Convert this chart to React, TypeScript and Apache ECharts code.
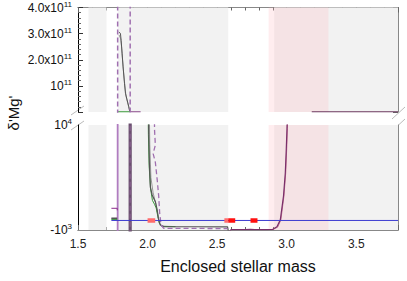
import React, { useEffect, useRef } from "react";
import * as echarts from "echarts";

type Pt = [number, number];

const X_MIN = 1.5;
const X_MAX = 3.8;
const xMajorStep = 0.5;
const xMinorStep = 0.1;
const topYMax = 4e11;
const topYStep = 1e11;
const bottomYMin = -1000;
const bottomYMax = 10000;
const bottomYLabelValues = [-1000, 10000];

const greyBands: Pt[] = [[1.575, 1.705], [1.785, 2.58], [2.91, 3.8]];
const pinkBands: Pt[] = [[2.87, 3.3]];

// top panel (linear, 0 .. 4e11)
const topGreyDark: Pt[] = [[1.793, 3.06e11], [1.805, 3.01e11], [1.81, 2.74e11], [1.817, 2.25e11], [1.824, 1.73e11], [1.834, 1.1e11], [1.841, 0.72e11], [1.853, 0.46e11], [1.865, 0.2e11], [1.872, 0.01e11]];
const topGreyLight: Pt[] = [[1.795, 2.95e11], [1.807, 2.8e11], [1.813, 2.5e11], [1.82, 2.0e11], [1.828, 1.5e11], [1.837, 1.0e11], [1.845, 0.6e11], [1.857, 0.35e11], [1.868, 0.12e11], [1.874, 0.01e11]];
const topGreen: Pt[] = [[1.785, 1e8], [1.874, 1e8]];
const topPurple: Pt[] = [[1.875, 1e8], [1.95, 1e8]];
const topPurpleRight: Pt[] = [[3.18, 1e8], [3.8, 1e8]];
const topPurpleDash: Pt[] = [[1.785, -1e10], [1.785, 5e11], [1.875, 5e11], [1.875, -1e10]];

// bottom panel (linear, -1e3 .. 1e4)
const botPurpleLightV: Pt[] = [[1.785, -1500], [1.785, 12000]];
const botDarkV: Pt[] = [[1.875, -1500], [1.875, 12000]];
const botShortPurple: Pt[] = [[1.74, 1275], [1.782, 1275], [1.782, 1060]];
const botShortGrey: Pt[] = [[1.74, 240], [1.782, 240]];
const botShortLightGrey: Pt[] = [[1.74, 170], [1.782, 170]];
const botShortGreen: Pt[] = [[1.74, 90], [1.782, 90]];
const botGreyDark: Pt[] = [[2.007, 12000], [2.008, 9500], [2.013, 6000], [2.02, 3500], [2.033, 2670], [2.056, 1960], [2.069, 1100], [2.08, 50], [2.092, -480], [2.116, -650], [2.35, -660], [2.575, -670], [2.585, -1500]];
const botGreyLight: Pt[] = [[2.012, 12000], [2.016, 8000], [2.024, 4500], [2.04, 2900], [2.06, 1700], [2.072, 700], [2.085, -300], [2.1, -600], [2.2, -640]];
const botGreen: Pt[] = [[2.004, 12000], [2.006, 9000], [2.012, 5500], [2.022, 3300], [2.035, 2100], [2.05, 1700], [2.062, 1300], [2.074, 400], [2.086, -350], [2.105, -620], [2.2, -650]];
const botPurpleDash: Pt[] = [[2.049, 12000], [2.05, 9500], [2.056, 7900], [2.04, 7000], [2.056, 6100], [2.069, 4300], [2.08, 2550], [2.087, 780], [2.097, -470], [2.116, -820], [2.575, -850]];
const botPurpleSolid: Pt[] = [[2.585, -1200], [2.6, -960], [2.7, -960], [2.74, -930], [2.77, -970], [2.85, -960], [2.9, -930], [2.93, -650], [2.954, 60], [2.977, 2550], [2.99, 5000], [2.997, 7500], [3.002, 9600], [3.006, 12000]];
const botPink: Pt[] = [[2.9, -960], [2.935, -700], [2.958, 60], [2.98, 2550], [2.993, 5000], [3.0, 7500], [3.005, 9600], [3.009, 12000]];
const zeroLine: Pt[] = [[1.74, 0], [3.8, 0]];
const lightRedSegs: Pt[] = [[2.0, 2.055], [2.552, 2.58]];
const redSegs: Pt[] = [[2.58, 2.63], [2.74, 2.79]];

const FONT = "'Liberation Sans', Arial, sans-serif";

function line(data: Pt[], xi: number, yi: number, color: string, width: number, type: any = "solid", z = 3) {
  return {
    type: "line",
    data,
    xAxisIndex: xi,
    yAxisIndex: yi,
    showSymbol: false,
    symbol: "none",
    silent: true,
    clip: true,
    z,
    lineStyle: { color, width, type, cap: "butt" },
  };
}

function bandSeries(xi: number, yi: number, bands: Pt[], color: string, z: number) {
  return {
    type: "line",
    data: [],
    xAxisIndex: xi,
    yAxisIndex: yi,
    silent: true,
    z,
    markArea: {
      silent: true,
      itemStyle: { color },
      data: bands.map(([a, b]) => [{ xAxis: a }, { xAxis: b }]),
    },
  };
}

export default function App() {
  const ref = useRef<HTMLDivElement>(null);
  useEffect(() => {
    if (!ref.current) return;
    const chart = echarts.init(ref.current, undefined, { renderer: "svg" });
    const richLbl = {
      b: { fontSize: 12, color: "#111", fontFamily: FONT },
      s: { fontSize: 8, color: "#111", fontFamily: FONT, padding: [0, 0, 7, 0] },
    };
    const xBase = (gridIndex: number, position: string, major: boolean, labels: boolean, axisColor: string) => ({
      type: "value",
      gridIndex,
      position,
      min: X_MIN,
      max: X_MAX,
      interval: major ? xMajorStep : xMinorStep,
      splitLine: { show: false },
      axisLine: { show: true, onZero: false, lineStyle: { color: axisColor, width: 1 } },
      axisTick: { show: true, inside: true, length: major ? 5 : 3, lineStyle: { color: "#666" } },
      axisLabel: labels
        ? {
            show: true,
            fontSize: 12,
            color: "#222",
            fontFamily: FONT,
            margin: 8,
            formatter: (v: number) => {
              const k = Math.round(v / xMajorStep);
              return Math.abs(k * xMajorStep - v) < 1e-6 && v < 3.75 ? v.toFixed(1) : "";
            },
          }
        : { show: false },
    });
    const option: any = {
      animation: false,
      grid: [
        { left: 78, right: 9, top: 7, height: 105 },
        { left: 78, right: 9, top: 125, height: 105 },
      ],
      xAxis: [
        xBase(0, "top", false, false, "#888"),
        xBase(0, "top", true, false, "#888"),
        xBase(1, "bottom", false, false, "#888"),
        {
          ...xBase(1, "bottom", true, true, "#888"),
          name: "Enclosed stellar mass",
          nameLocation: "middle",
          nameGap: 28,
          nameTextStyle: { fontSize: 16, color: "#111", fontFamily: FONT },
        },
      ],
      yAxis: [
        {
          type: "value",
          gridIndex: 0,
          position: "left",
          min: 0,
          max: topYMax,
          interval: topYStep,
          splitLine: { show: false },
          axisLine: { show: true, lineStyle: { color: "#000" } },
          axisTick: { show: true, inside: true, length: 5, lineStyle: { color: "#333" } },
          minorTick: { show: true, splitNumber: 5, length: 3, lineStyle: { color: "#666" } },
          axisLabel: {
            margin: 6,
            formatter: (v: number) => {
              const k = Math.round(v / topYStep);
              if (k === 0) return "";
              if (k === 1) return "{b|10}{s|11}";
              return `{b|${k}.0x10}{s|11}`;
            },
            rich: richLbl,
          },
        },
        {
          type: "value",
          gridIndex: 0,
          position: "right",
          min: 0,
          max: topYMax,
          interval: topYStep,
          splitLine: { show: false },
          axisLine: { show: true, lineStyle: { color: "#888" } },
          axisTick: { show: true, inside: true, length: 5, lineStyle: { color: "#666" } },
          minorTick: { show: true, splitNumber: 5, length: 3, lineStyle: { color: "#888" } },
          axisLabel: { show: false },
        },
        {
          type: "value",
          gridIndex: 1,
          position: "left",
          min: bottomYMin,
          max: bottomYMax,
          splitLine: { show: false },
          axisLine: { show: true, lineStyle: { color: "#000" } },
          axisTick: { show: false },
          axisLabel: {
            margin: 6,
            customValues: bottomYLabelValues,
            formatter: (v: number) => (v < 0 ? "{b|-10}{s|3}" : "{b|10}{s|4}"),
            rich: richLbl,
          },
        },
        {
          type: "value",
          gridIndex: 1,
          position: "right",
          min: bottomYMin,
          max: bottomYMax,
          splitLine: { show: false },
          axisLine: { show: true, lineStyle: { color: "#888" } },
          axisTick: { show: false },
          axisLabel: { show: false },
        },
      ],
      graphic: [
        {
          type: "text",
          x: 13,
          y: 113,
          rotation: Math.PI / 2,
          style: { text: "δ'Mg'", fontSize: 15, fill: "#111", fontFamily: FONT, textAlign: "center", textVerticalAlign: "middle" },
        },
        { type: "line", shape: { x1: 71, y1: 115, x2: 84, y2: 106 }, style: { stroke: "#bbb", lineWidth: 1 } },
        { type: "line", shape: { x1: 71, y1: 130, x2: 84, y2: 121 }, style: { stroke: "#bbb", lineWidth: 1 } },
        { type: "line", shape: { x1: 392, y1: 119, x2: 405, y2: 107 }, style: { stroke: "#bbb", lineWidth: 1 } },
        { type: "line", shape: { x1: 392, y1: 131, x2: 405, y2: 119 }, style: { stroke: "#bbb", lineWidth: 1 } },
      ],
      series: [
        bandSeries(1, 0, greyBands, "#f2f2f2", 0),
        bandSeries(1, 0, pinkBands, "rgba(255,182,193,0.25)", 0),
        bandSeries(3, 2, greyBands, "#f2f2f2", 0),
        bandSeries(3, 2, pinkBands, "rgba(255,182,193,0.25)", 0),
        // top panel
        line(topGreyLight, 1, 0, "#9a9a9a", 1),
        line(topGreyDark, 1, 0, "#555", 1),
        line(topGreen, 1, 0, "#3a9a3a", 1.2),
        line(topPurple, 1, 0, "#8a4a8a", 1.2),
        line(topPurpleRight, 1, 0, "#6d3a5f", 1.2),
        line(topPurpleDash, 1, 0, "#a070b0", 1.5, [5, 3]),
        // bottom panel
        line(botPurpleLightV, 3, 2, "#b07cc0", 1.8),
        line(botDarkV, 3, 2, "#6b5070", 3.2),
        line(botDarkV, 3, 2, "#8a6090", 1.2, [5, 3]),
        line(botShortPurple, 3, 2, "#8a2a8a", 1),
        line(botShortLightGrey, 3, 2, "#999", 1),
        line(botShortGrey, 3, 2, "#555", 1.5),
        line(botShortGreen, 3, 2, "#3a9a3a", 1),
        line(botGreyLight, 3, 2, "#9a9a9a", 1),
        line(botGreen, 3, 2, "#3a9a3a", 1),
        line(botGreyDark, 3, 2, "#555", 1.2),
        line(botPurpleDash, 3, 2, "#a070b0", 1.3, [5, 3]),
        line(botPink, 3, 2, "#c07090", 1),
        line(botPurpleSolid, 3, 2, "#7a2f6a", 1.2),
        line(zeroLine, 3, 2, "#3c3cd0", 1, "solid", 4),
        ...lightRedSegs.map(([a, b]) => line([[a, 0], [b, 0]], 3, 2, "#ff6b6b", 4.5, "solid", 5)),
        ...redSegs.map(([a, b]) => line([[a, 0], [b, 0]], 3, 2, "#ff1010", 4.5, "solid", 5)),
      ],
    };
    chart.setOption(option);
    return () => chart.dispose();
  }, []);
  return <div ref={ref} style={{ position: "absolute", left: 0, top: 0, width: 407, height: 281 }} />;
}
